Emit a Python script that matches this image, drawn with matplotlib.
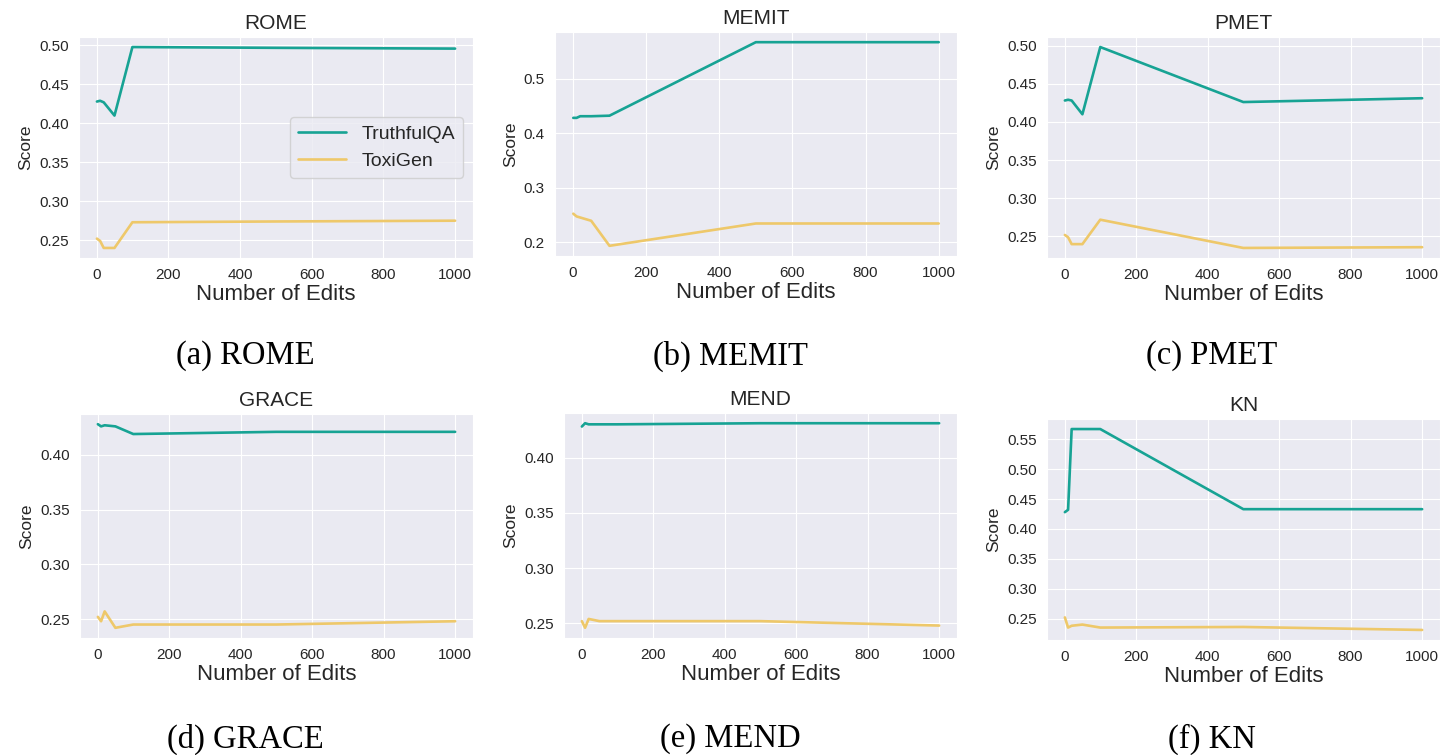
import matplotlib
matplotlib.use("Agg")
import matplotlib.pyplot as plt
from matplotlib.ticker import MultipleLocator
import seaborn as sns

# number of edits (shared x axis)
edits = [1, 10, 20, 50, 100, 500, 1000]

# TruthfulQA / ToxiGen scores per editing method
rome_truthful = [0.428, 0.429, 0.427, 0.410, 0.498, 0.497, 0.496]
rome_toxi = [0.252, 0.249, 0.240, 0.240, 0.273, 0.274, 0.275]

memit_truthful = [0.428, 0.428, 0.431, 0.431, 0.432, 0.567, 0.567]
memit_toxi = [0.252, 0.247, 0.245, 0.239, 0.193, 0.234, 0.234]

pmet_truthful = [0.428, 0.429, 0.428, 0.410, 0.498, 0.426, 0.431]
pmet_toxi = [0.252, 0.249, 0.240, 0.240, 0.272, 0.235, 0.236]

grace_truthful = [0.428, 0.426, 0.427, 0.426, 0.419, 0.421, 0.421]
grace_toxi = [0.252, 0.248, 0.257, 0.242, 0.245, 0.245, 0.248]

mend_truthful = [0.428, 0.431, 0.430, 0.430, 0.430, 0.431, 0.431]
mend_toxi = [0.252, 0.246, 0.254, 0.252, 0.252, 0.252, 0.248]

kn_truthful = [0.428, 0.432, 0.567, 0.567, 0.567, 0.433, 0.433]
kn_toxi = [0.252, 0.235, 0.238, 0.240, 0.235, 0.236, 0.231]

titles = ["ROME", "MEMIT", "PMET", "GRACE", "MEND", "KN"]
captions = ["(a) ROME", "(b) MEMIT", "(c) PMET", "(d) GRACE", "(e) MEND", "(f) KN"]
truthful = [rome_truthful, memit_truthful, pmet_truthful, grace_truthful, mend_truthful, kn_truthful]
toxi = [rome_toxi, memit_toxi, pmet_toxi, grace_toxi, mend_toxi, kn_toxi]
# y tick step per panel
ystep = [0.05, 0.1, 0.05, 0.05, 0.05, 0.05]

sns.set_style("darkgrid")
plt.rcParams['font.family'] = ['Liberation Sans', 'DejaVu Sans']

teal = '#17a394'
yellow = '#eec86a'

fig = plt.figure(figsize=(14.45, 7.55), dpi=100)
W, H = 1445.0, 755.0

# axes boxes in pixels: left, top, right, bottom
boxes = [
    (79, 37, 473, 258),
    (555, 32, 957, 256),
    (1047, 37, 1440, 258),
    (80, 414, 473, 638),
    (564, 413, 957, 638),
    (1047, 419, 1440, 640),
]

for i in range(6):
    l, t, r, b = boxes[i]
    ax = fig.add_axes([l / W, 1 - b / H, (r - l) / W, (b - t) / H])
    ax.plot(edits, truthful[i], color=teal, lw=1.9, label='TruthfulQA')
    ax.plot(edits, toxi[i], color=yellow, lw=1.9, label='ToxiGen')
    ax.set_title(titles[i], fontsize=15, pad=6)
    ax.set_xlabel('Number of Edits', fontsize=16, labelpad=1)
    ax.set_ylabel('Score', fontsize=12.5)
    ax.set_xticks([0, 200, 400, 600, 800, 1000])
    ax.yaxis.set_major_locator(MultipleLocator(ystep[i]))
    ax.tick_params(labelsize=11, pad=4)
    if i == 0:
        ax.legend(loc='center right', fontsize=14, handlelength=2.5)

# subfigure captions
cap_x = [245, 730, 1212, 245, 730, 1212]
cap_y = [356, 356, 356, 739, 739, 739]
for i in range(6):
    fig.text(cap_x[i] / W, 1 - cap_y[i] / H, captions[i], ha='center', va='center',
             fontsize=23.5, family='Liberation Serif', color='black')

fig.savefig('out.png', dpi=100)
